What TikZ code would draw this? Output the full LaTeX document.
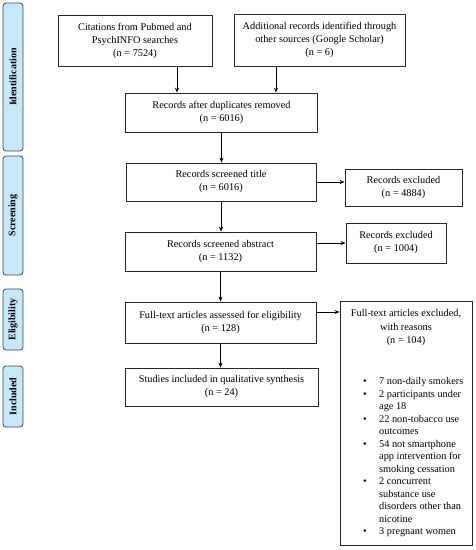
\documentclass[tikz,border=0pt]{standalone}
\usepackage{fontspec}
\setmainfont{Liberation Serif}
\usetikzlibrary{arrows.meta,calc}
\definecolor{sideblue}{HTML}{C6E9FA}
\definecolor{sideedge}{HTML}{3A4A55}
\begin{document}
\begin{tikzpicture}[x=1pt,y=-1pt,
  box/.style={draw=black!85,line width=0.8pt,align=center,inner sep=0pt,font=\fontsize{10.3}{13}\selectfont},
  arr/.style={-{Stealth[length=5pt,width=4pt]},line width=0.8pt},
  side/.style={draw=sideedge,fill=sideblue,rounded corners=3pt,line width=0.8pt,rotate=90,minimum height=20pt,inner sep=0pt,font=\fontsize{10}{12}\selectfont\bfseries}]
\useasboundingbox (0,0) rectangle (476,550);
% side labels
\node[side,minimum width=148pt] (sid) at (13,77) {Identification};
\node[side,minimum width=119pt] (ssc) at (13,215.5) {Screening};
\node[side,minimum width=61pt] (sel) at (13,319.5) {Eligibility};
\node[side,minimum width=61pt] (sin) at (13,396.5) {Included};
% boxes
\node[box,minimum width=154pt,minimum height=51pt] (b1) at (135,40.5) {Citations from Pubmed and\\PsychINFO searches\\(n = 7524)};
\node[box,minimum width=171pt,minimum height=52pt] (b2) at (319.5,40) {Additional records identified through\\other sources (Google Scholar)\\(n = 6)};
\node[box,minimum width=192pt,minimum height=39pt] (dup) at (221.5,112.5) {Records after duplicates removed\\(n = 6016)};
\node[box,minimum width=190pt,minimum height=38pt] (tit) at (221,182) {Records screened title\\(n = 6016)};
\node[box,minimum width=117pt,minimum height=37pt] (ex1) at (403.5,187.5) {Records excluded\\(n = 4884)};
\node[box,minimum width=191pt,minimum height=39pt] (abs) at (220.5,251.5) {Records screened abstract\\(n = 1132)};
\node[box,minimum width=100pt,minimum height=40pt] (ex2) at (396,243) {Records excluded\\(n = 1004)};
\node[box,minimum width=191pt,minimum height=41pt] (ful) at (220.5,322.5) {Full-text articles assessed for eligibility\\(n = 128)};
\node[box,minimum width=132pt,minimum height=244pt] (ex3) at (406,423) {};
\node[box,minimum width=193pt,minimum height=38pt] (stu) at (221.5,387) {Studies included in qualitative synthesis\\(n = 24)};
% contents of the reasons box
\node[align=center,inner sep=0pt,font=\fontsize{10.3}{13.5}\selectfont] (ex3h) at (406,328) {Full-text articles excluded,\\with reasons\\(n = 104)};
\node[anchor=north west,inner sep=0pt,font=\fontsize{10.3}{12.5}\selectfont] (ex3l) at (363,376) {%
\begin{tabular}{@{}p{16pt}@{}l@{}}
\textbullet & 7 non-daily smokers\\
\textbullet & 2 participants under\\
 & age 18\\
\textbullet & 22 non-tobacco use\\
 & outcomes\\
\textbullet & 54 not smartphone\\
 & app intervention for\\
 & smoking cessation\\
\textbullet & 2 concurrent\\
 & substance use\\
 & disorders other than\\
 & nicotine\\
\textbullet & 3 pregnant women
\end{tabular}};
% helper coordinates
\coordinate (a1) at (177,0);
\coordinate (a2) at (276,0);
\coordinate (a3) at (0,312);
% connectors
\draw[arr] (b1.south -| a1) -- (dup.north -| a1);
\draw[arr] (b2.south -| a2) -- (dup.north -| a2);
\draw[arr] (dup.south) -- (dup.south |- tit.north);
\draw[arr] (tit.east) -- (tit.east -| ex1.west);
\draw[arr] (tit.south) -- (tit.south |- abs.north);
\draw[arr] (ex2.west -| abs.east) -- (ex2.west);
\draw[arr] (abs.south) -- (abs.south |- ful.north);
\draw[arr] (ful.east |- a3) -- (ex3.west |- a3);
\draw[arr] (ful.south) -- (ful.south |- stu.north);
\end{tikzpicture}
\end{document}
